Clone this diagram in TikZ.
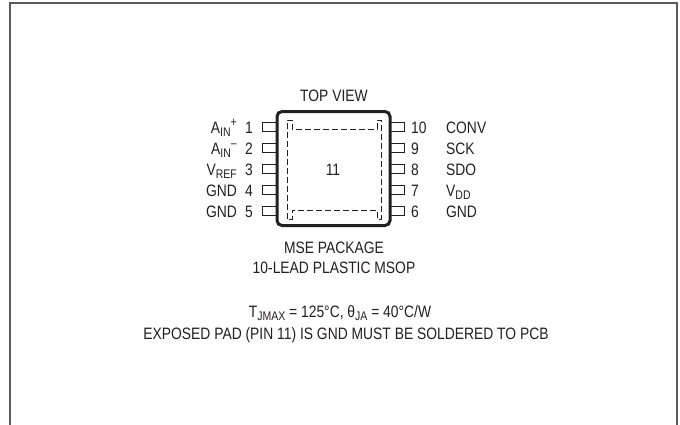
\documentclass[tikz,border=0pt]{standalone}
\usepackage{fontspec}
\setmainfont[FakeStretch=0.84]{Liberation Sans}
\newcommand{\lsub}[1]{\raisebox{-0.35ex}{\fontsize{12.5}{13}\selectfont #1}}
\newcommand{\lsup}[1]{\raisebox{0.75ex}{\fontsize{12.5}{13}\selectfont #1}}
\definecolor{ink}{HTML}{231F20}
\definecolor{framegray}{HTML}{5A5A5A}
\begin{document}
\begin{tikzpicture}[x=1pt,y=-1pt,
  font=\fontsize{16.5}{19}\selectfont, text=ink,
  frame/.style={draw=framegray,line width=2pt},
  pinbox/.style={draw=ink,fill=white,line width=1pt,minimum width=14pt,minimum height=9pt,inner sep=0pt},
  body/.style={draw=ink,line width=3pt,rounded corners=5pt,minimum width=113pt,minimum height=114pt,inner sep=0pt},
  lbl/.style={inner sep=0pt},
  pad/.style={draw=ink,line width=0.8pt,dash pattern=on 6pt off 3pt}]
\useasboundingbox (0,0) rectangle (680,424);
\begin{scope}
\clip (0,0) rectangle (680,424);
\draw[frame] (9.5,440) -- (9.5,2.5) -- (677,2.5) -- (677,440);
\end{scope}
% pins
\foreach \i/\y in {1/127,2/148,3/169,4/190,5/211}{
  \node[pinbox,anchor=east] (pl\i) at (277,\y) {};
}
\foreach \i/\y in {10/127,9/148,8/169,7/190,6/211}{
  \node[pinbox,anchor=west] (pr\i) at (390,\y) {};
}
\node[body] (body) at (333.5,168.5) {};
% exposed pad outline
\draw[pad] (287,219) -- (287,120) -- (292,120) -- (292,129) -- (377,129) -- (377,120) -- (381,120) -- (381,219) -- (377,219) -- (377,210) -- (292,210) -- (292,219) -- cycle;
\node[lbl,anchor=base] (pad) at (333,175) {11};
\node[lbl,anchor=base] (top) at (334,101) {TOP VIEW};
% left numbers and names
\foreach \i/\y in {1/127,2/148,3/169,4/190,5/211}{
  \node[lbl,anchor=base east] (nl\i) at (253,\y+6) {\i};
}
\node[lbl,anchor=base east] (ain1) at (237,133) {A\lsub{IN}\lsup{+}};
\node[lbl,anchor=base east] (ain2) at (237,154) {A\lsub{IN}\lsup{–}};
\node[lbl,anchor=base east] (vref) at (237,175) {V\lsub{REF}};
\node[lbl,anchor=base east] (gnd4) at (237,196) {GND};
\node[lbl,anchor=base east] (gnd5) at (237,217) {GND};
% right numbers and names
\foreach \i/\y in {10/127,9/148,8/169,7/190,6/211}{
  \node[lbl,anchor=base west] (nr\i) at (411,\y+6) {\i};
}
\node[lbl,anchor=base west] (conv) at (446,133) {CONV};
\node[lbl,anchor=base west] (sck) at (446,154) {SCK};
\node[lbl,anchor=base west] (sdo) at (446,175) {SDO};
\node[lbl,anchor=base west] (vdd) at (446,196) {V\lsub{DD}};
\node[lbl,anchor=base west] (gnd6) at (446,217) {GND};
% captions
\node[lbl,anchor=base] (pkg) at (334,253) {MSE PACKAGE};
\node[lbl,anchor=base] (lead) at (334,273) {10-LEAD PLASTIC MSOP};
\node[lbl,anchor=base] (therm) at (340,317) {T\lsub{JMAX} = 125°C, θ\lsub{JA} = 40°C/W};
\node[lbl,anchor=base] (exp) at (346,339) {EXPOSED PAD (PIN 11) IS GND MUST BE SOLDERED TO PCB};
\end{tikzpicture}
\end{document}
